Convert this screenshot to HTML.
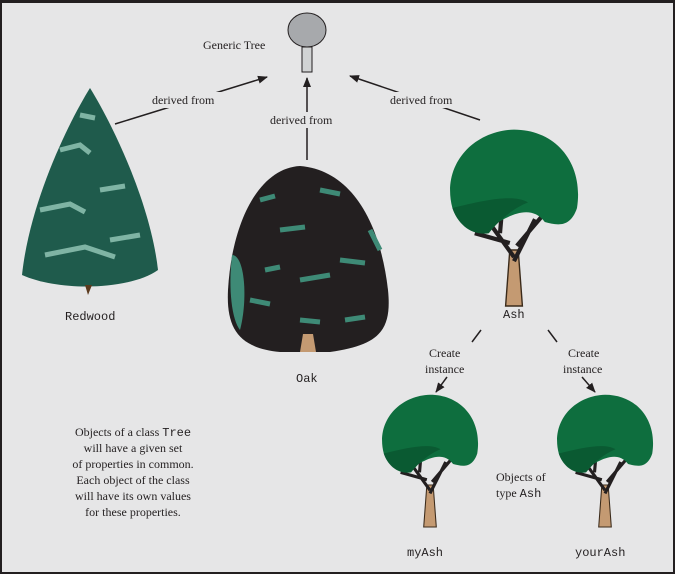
<!DOCTYPE html>
<html><head><style>
body{margin:0;background:#e6e6e7}
svg{display:block}
text{font-family:"Liberation Serif",serif;font-size:12px;fill:#231f20}
.m{font-family:"Liberation Mono",monospace;font-size:12px}
</style></head><body>
<svg width="675" height="574" viewBox="0 0 675 574">
<defs>
<marker id="a" markerWidth="10" markerHeight="10" refX="9" refY="5" orient="auto" markerUnits="userSpaceOnUse">
<path d="M0,1 L10,5 L0,9 z" fill="#231f20"/></marker>
<g id="ash">
<path d="M-6,40 L-3,0 L3,0 L6,40 Z" fill="#c49a72" stroke="#3a2a1a" stroke-width="1"/>
<path d="M0,5 L-18,-20 M0,8 L15,-22 M-3,-5 L-28,-12 M2,-3 L25,-30 M-10,-12 L-8,-35" stroke="#231f20" stroke-width="3" fill="none"/>
<path d="M-44,-30 C-52,-60 -30,-85 0,-86 C30,-86 50,-62 45,-30 C40,-15 30,-18 22,-20 C10,-36 -10,-20 -20,-15 C-30,-12 -40,-18 -44,-30 Z" fill="#0e6e3e"/>
<path d="M-44,-30 C-40,-18 -30,-10 -18,-12 C-10,-22 0,-30 10,-34 C0,-40 -20,-36 -44,-30 Z" fill="#0a5a32"/>
</g>
</defs>
<rect x="1" y="1" width="673" height="572" fill="#e6e6e7" stroke="#231f20" stroke-width="2"/>
<rect x="0" y="0" width="675" height="3" fill="#231f20"/>
<!-- generic tree -->
<ellipse cx="307" cy="30" rx="19" ry="17" fill="#a7a9ac" stroke="#231f20" stroke-width="1"/>
<rect x="302" y="47" width="10" height="25" fill="#d1d3d4" stroke="#231f20" stroke-width="1"/>
<text x="203" y="49">Generic Tree</text>
<!-- arrows -->
<line x1="115" y1="124" x2="267" y2="77" stroke="#231f20" stroke-width="1.5" marker-end="url(#a)"/>
<line x1="307" y1="160" x2="307" y2="78" stroke="#231f20" stroke-width="1.5" marker-end="url(#a)"/>
<line x1="480" y1="120" x2="350" y2="76" stroke="#231f20" stroke-width="1.5" marker-end="url(#a)"/>
<rect x="150" y="92" width="75" height="16" fill="#e6e6e7"/>
<text x="152" y="104">derived from</text>
<rect x="268" y="112" width="75" height="16" fill="#e6e6e7"/>
<text x="270" y="124">derived from</text>
<rect x="388" y="92" width="75" height="16" fill="#e6e6e7"/>
<text x="390" y="104">derived from</text>
<!-- redwood -->
<path d="M90,88 C110,120 150,200 158,270 C130,290 60,292 22,275 C30,200 70,120 90,88 Z" fill="#1f5b4c"/>
<path d="M60,150 l20,-5 l10,8 M40,210 l30,-6 l15,8 M100,190 l25,-4 M45,255 l40,-8 l30,10 M110,240 l30,-5 M80,115 l15,3" stroke="#7fb4a4" stroke-width="5" fill="none"/>
<path d="M85,285 l3,10 l4,-10 z" fill="#5b3a1e"/>
<text class="m" x="65" y="320">Redwood</text>
<!-- oak -->
<path d="M300,166 C350,170 380,220 388,290 C392,330 380,345 330,352 L280,352 C240,348 226,330 228,290 C232,220 260,168 300,166 Z" fill="#231f20"/>
<path d="M232,255 C245,255 248,300 240,330 C232,320 228,290 232,255 Z" fill="#3e8a76"/>
<path d="M260,200 l15,-4 M320,190 l20,4 M280,230 l25,-3 M340,260 l25,3 M300,280 l30,-5 M250,300 l20,4 M345,320 l20,-3 M370,230 l10,20 M265,270 l15,-3 M300,320 l20,2" stroke="#3e8a76" stroke-width="5" fill="none"/>
<path d="M300,352 l3,-18 l10,0 l3,18 z" fill="#c49a72"/>
<text class="m" x="296" y="382">Oak</text>
<!-- ash -->
<g transform="translate(514,250) scale(1.4)"><use href="#ash"/></g>
<text class="m" x="503" y="318">Ash</text>
<line x1="481" y1="330" x2="472" y2="342" stroke="#231f20" stroke-width="1.5"/>
<line x1="447" y1="377" x2="436" y2="392" stroke="#231f20" stroke-width="1.5" marker-end="url(#a)"/>
<line x1="548" y1="330" x2="557" y2="342" stroke="#231f20" stroke-width="1.5"/>
<line x1="582" y1="377" x2="595" y2="392" stroke="#231f20" stroke-width="1.5" marker-end="url(#a)"/>
<text x="429" y="357">Create</text>
<text x="425" y="373">instance</text>
<text x="568" y="357">Create</text>
<text x="563" y="373">instance</text>
<!-- small ashes -->
<g transform="translate(430,485) scale(1.05)"><use href="#ash"/></g>
<g transform="translate(605,485) scale(1.05)"><use href="#ash"/></g>
<text x="496" y="481">Objects of</text>
<text x="496" y="497">type <tspan class="m">Ash</tspan></text>
<text class="m" x="407" y="556">myAsh</text>
<text class="m" x="575" y="556">yourAsh</text>
<!-- note -->
<g text-anchor="middle">
<text x="133" y="436">Objects of a class <tspan class="m">Tree</tspan></text>
<text x="133" y="452">will have a given set</text>
<text x="133" y="468">of properties in common.</text>
<text x="133" y="484">Each object of the class</text>
<text x="133" y="500">will have its own values</text>
<text x="133" y="516">for these properties.</text>
</g>
</svg>
</body></html>
